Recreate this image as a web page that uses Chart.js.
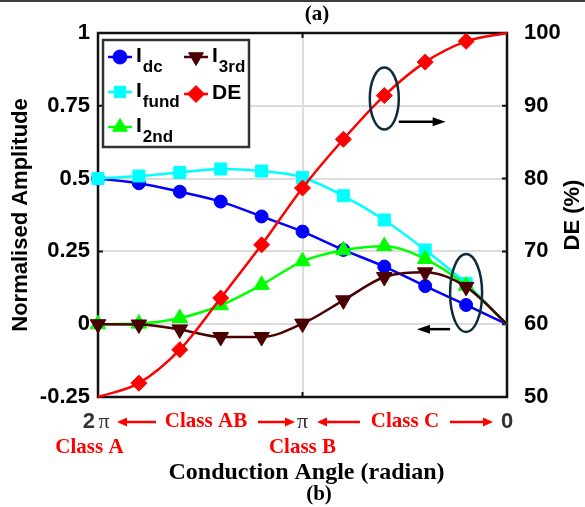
<!DOCTYPE html>
<html>
<head>
<meta charset="utf-8">
<script src="https://cdn.jsdelivr.net/npm/chart.js@4.4.0/dist/chart.umd.min.js"></script>
<style>
    html, body { margin: 0; padding: 0; background: #fff; }
</style>
</head>
<body>
<canvas id="chart" width="585" height="507"></canvas>
<script>
// Conduction angle in units of pi (2pi ... 0)
const angle = [2, 1.8, 1.6, 1.4, 1.2, 1.0, 0.8, 0.6, 0.4, 0.2, 0];

// Normalised harmonic amplitudes (left axis)
const iDc   = [0.5, 0.484, 0.455, 0.421, 0.370, 0.318, 0.255, 0.198, 0.131, 0.066, 0];
const iFund = [0.5, 0.509, 0.521, 0.533, 0.526, 0.504, 0.441, 0.358, 0.255, 0.140, 0];
const i2nd  = [0, 0.002, 0.021, 0.065, 0.135, 0.216, 0.254, 0.268, 0.224, 0.132, 0];
const i3rd  = [0, -0.001, -0.018, -0.044, -0.044, 0.002, 0.082, 0.162, 0.178, 0.128, 0];

// Drain efficiency in % (right axis)
const de = [50, 51.9, 56.5, 63.6, 70.9, 78.7, 85.4, 91.4, 96.0, 98.85, 100];

const leftTicks = { '1': '1', '0.75': '0.75', '0.5': '0.5', '0.25': '0.25', '0': '0', '-0.25': '-0.25' };
const xTickLabels = { 2: '2π', 1: 'π', 0: '0' };

const SANS = "'Liberation Sans', Arial, sans-serif";
const SERIF = "'Liberation Serif', 'Times New Roman', serif";

function pts(vals) {
    return angle.map((a, i) => ({ x: a, y: vals[i] }));
}

// markers on every point but the last (and optionally the first)
function radii(r, skipFirst) {
    return angle.map((a, i) => (i === angle.length - 1 || (skipFirst && i === 0)) ? 0 : r);
}

function series(label, vals, color, style, r, extra) {
    return Object.assign({
        label: label,
        data: pts(vals),
        borderColor: color,
        backgroundColor: color,
        pointBackgroundColor: color,
        pointBorderColor: color,
        borderWidth: 2.5,
        pointStyle: style,
        pointRadius: radii(r, false),
        pointBorderWidth: 1,
        cubicInterpolationMode: 'monotone',
        clip: false,
        yAxisID: 'y'
    }, extra || {});
}

const datasets = [
    series('Idc', iDc, '#0000ff', 'circle', 6.5, { order: 4 }),
    series('Ifund', iFund, '#00ffff', 'rect', 8.5, { order: 3 }),
    series('I2nd', i2nd, '#00ff00', 'triangle', 9, { order: 2 }),
    series('I3rd', i3rd, '#4a0000', 'triangle', 9, { order: 1, pointRotation: 180 }),
    series('DE', de, '#ff0000', 'rectRot', 8, { order: 0, yAxisID: 'y1', pointRadius: radii(8, true) })
];

function arrow(ctx, x1, y, x2, color, head) {
    const dir = x2 > x1 ? 1 : -1;
    const len = head || 10;
    ctx.strokeStyle = color;
    ctx.fillStyle = color;
    ctx.lineWidth = 2.5;
    ctx.beginPath();
    ctx.moveTo(x1, y);
    ctx.lineTo(x2 - dir * (len - 2), y);
    ctx.stroke();
    ctx.beginPath();
    ctx.moveTo(x2, y);
    ctx.lineTo(x2 - dir * len, y - 4.5);
    ctx.lineTo(x2 - dir * len, y + 4.5);
    ctx.closePath();
    ctx.fill();
}

function text(ctx, str, x, y, font, color, align) {
    ctx.font = font;
    ctx.fillStyle = color;
    ctx.textAlign = align || 'center';
    ctx.textBaseline = 'middle';
    ctx.fillText(str, x, y);
}

function legendItem(ctx, ds, x, y, main, sub) {
    ctx.strokeStyle = ds.borderColor;
    ctx.lineWidth = 2.5;
    ctx.beginPath();
    ctx.moveTo(x - 12, y);
    ctx.lineTo(x + 12, y);
    ctx.stroke();
    ctx.fillStyle = ds.backgroundColor;
    ctx.strokeStyle = ds.borderColor;
    ctx.lineWidth = 1;
    Chart.helpers.drawPoint(ctx, {
        pointStyle: ds.pointStyle,
        rotation: ds.pointRotation || 0,
        radius: ds.pointStyle === 'rect' ? 8 : (ds.pointStyle === 'circle' ? 7 : 8.5),
        borderWidth: 1
    }, x, y);
    ctx.fillStyle = '#000';
    ctx.textAlign = 'left';
    ctx.textBaseline = 'alphabetic';
    ctx.font = 'bold 21px ' + SANS;
    ctx.fillText(main, x + 16, y + 5);
    if (sub) {
        const w = ctx.measureText(main).width;
        ctx.font = 'bold 17px ' + SANS;
        ctx.fillText(sub, x + 17 + w, y + 15);
    }
}

const overlay = {
    id: 'overlay',
    beforeDatasetsDraw(chart) {
        const ctx = chart.ctx;
        const a = chart.chartArea;
        const xs = chart.scales.x, yl = chart.scales.y, yr = chart.scales.y1;
        ctx.save();
        ctx.strokeStyle = '#111';
        ctx.lineWidth = 2.5;
        ctx.strokeRect(a.left, a.top, a.right - a.left, a.bottom - a.top);
        // inward tick marks
        ctx.lineWidth = 2;
        ctx.beginPath();
        yl.ticks.forEach(t => {
            const py = yl.getPixelForValue(t.value);
            ctx.moveTo(a.left, py); ctx.lineTo(a.left + 5, py);
        });
        yr.ticks.forEach(t => {
            const py = yr.getPixelForValue(t.value);
            ctx.moveTo(a.right, py); ctx.lineTo(a.right - 5, py);
        });
        const px = xs.getPixelForValue(1);
        ctx.moveTo(px, a.top); ctx.lineTo(px, a.top + 5);
        ctx.moveTo(px, a.bottom); ctx.lineTo(px, a.bottom - 5);
        ctx.stroke();
        ctx.restore();
    },
    afterDraw(chart) {
        const ctx = chart.ctx;
        const xs = chart.scales.x, yl = chart.scales.y, yr = chart.scales.y1;
        const ds = chart.data.datasets;
        ctx.save();

        // frame line at the top of the figure
        ctx.fillStyle = '#3c3c3c';
        ctx.fillRect(0, 0, chart.width, 2);

        text(ctx, '(a)', 317, 15, 'bold 21px ' + SERIF, '#000');

        // right axis title, reading bottom to top
        ctx.save();
        ctx.translate(573, (chart.chartArea.top + chart.chartArea.bottom) / 2);
        ctx.rotate(-Math.PI / 2);
        text(ctx, 'DE (%)', 0, 0, 'bold 22px ' + SANS, '#000');
        ctx.restore();

        // legend
        ctx.fillStyle = '#fff';
        ctx.fillRect(103, 40, 146, 107);
        ctx.strokeStyle = '#333';
        ctx.lineWidth = 2.5;
        ctx.strokeRect(103, 40, 146, 107);
        legendItem(ctx, ds[0], 120, 57, 'I', 'dc');
        legendItem(ctx, ds[1], 120, 92, 'I', 'fund');
        legendItem(ctx, ds[2], 120, 127, 'I', '2nd');
        legendItem(ctx, ds[3], 196, 57, 'I', '3rd');
        legendItem(ctx, ds[4], 196, 94, 'DE', null);

        // ellipse marking DE -> right axis
        ctx.strokeStyle = '#0e2a3b';
        ctx.lineWidth = 2.5;
        let cx = xs.getPixelForValue(0.6), cy = yr.getPixelForValue(91);
        ctx.beginPath();
        ctx.ellipse(cx, cy, 14.5, 31, 0, 0, Math.PI * 2);
        ctx.stroke();
        arrow(ctx, cx + 14.5, yr.getPixelForValue(87.8), xs.getPixelForValue(0.3), '#000', 13);

        // ellipse marking currents -> left axis
        ctx.strokeStyle = '#0e2a3b';
        ctx.lineWidth = 2.5;
        cx = xs.getPixelForValue(0.2);
        cy = yl.getPixelForValue(0.107);
        ctx.beginPath();
        ctx.ellipse(cx, cy, 16, 39, 0, 0, Math.PI * 2);
        ctx.stroke();
        arrow(ctx, cx - 16, yl.getPixelForValue(-0.017), xs.getPixelForValue(0.44), '#000', 13);

        // x tick labels and operating classes
        const rowY = 422;
        const x2pi = xs.getPixelForValue(2), xpi = xs.getPixelForValue(1), x0 = xs.getPixelForValue(0);
        text(ctx, '2', x2pi - 3, rowY, 'bold 22px ' + SANS, '#333', 'right');
        text(ctx, 'π', x2pi + 6, rowY, '22px ' + SERIF, '#333');
        text(ctx, xTickLabels[1], xpi, rowY, '22px ' + SERIF, '#333');
        text(ctx, xTickLabels[0], x0, rowY, 'bold 22px ' + SANS, '#333');

        arrow(ctx, 156, rowY, 117, '#ff0000');
        text(ctx, 'Class AB', 206, rowY, 'bold 21px ' + SERIF, '#ff0000');
        arrow(ctx, 258, rowY, 295, '#ff0000');
        arrow(ctx, 360, rowY, 317, '#ff0000');
        text(ctx, 'Class C', 405, rowY, 'bold 21px ' + SERIF, '#ff0000');
        arrow(ctx, 450, rowY, 493, '#ff0000');

        text(ctx, 'Class A', 89.5, 448, 'bold 21px ' + SERIF, '#ff0000');
        text(ctx, 'Class B', xpi, 448, 'bold 21px ' + SERIF, '#ff0000');

        text(ctx, 'Conduction Angle (radian)', 306.5, 473, 'bold 24px ' + SERIF, '#000');
        text(ctx, '(b)', 319, 495, 'bold 21px ' + SERIF, '#000');

        ctx.restore();
    }
};

new Chart(document.getElementById('chart'), {
    type: 'line',
    data: { datasets: datasets },
    plugins: [overlay],
    options: {
        responsive: false,
        animation: false,
        events: [],
        layout: { padding: { left: 0, right: 0, top: 33, bottom: 110 } },
        plugins: {
            legend: { display: false },
            tooltip: { enabled: false }
        },
        scales: {
            x: {
                type: 'linear',
                min: 0,
                max: 2,
                reverse: true,
                afterFit: s => { s.height = 0; },
                ticks: { display: false, stepSize: 1 },
                border: { display: false },
                grid: {
                    drawTicks: false,
                    lineWidth: 2,
                    color: c => (c.tick && c.tick.value === 1) ? '#dcdcdc' : 'rgba(0,0,0,0)'
                }
            },
            y: {
                position: 'left',
                min: -0.25,
                max: 1,
                afterFit: s => { s.width = 98; },
                ticks: {
                    stepSize: 0.25,
                    padding: 8,
                    color: '#000',
                    font: { family: SANS, weight: 'bold', size: 22 },
                    callback: v => leftTicks[String(v)] !== undefined ? leftTicks[String(v)] : ''
                },
                border: { display: false },
                grid: { drawTicks: false, color: '#dcdcdc', lineWidth: 2 },
                title: {
                    display: true,
                    text: 'Normalised Amplitude',
                    color: '#000',
                    font: { family: SANS, weight: 'bold', size: 22 },
                    padding: { top: 8, bottom: 0 }
                }
            },
            y1: {
                position: 'right',
                min: 50,
                max: 100,
                afterFit: s => { s.width = 78; },
                ticks: {
                    stepSize: 10,
                    padding: 9,
                    color: '#000',
                    font: { family: SANS, weight: 'bold', size: 22 }
                },
                border: { display: false },
                grid: { display: false }
            }
        }
    }
});
</script>
</body>
</html>
